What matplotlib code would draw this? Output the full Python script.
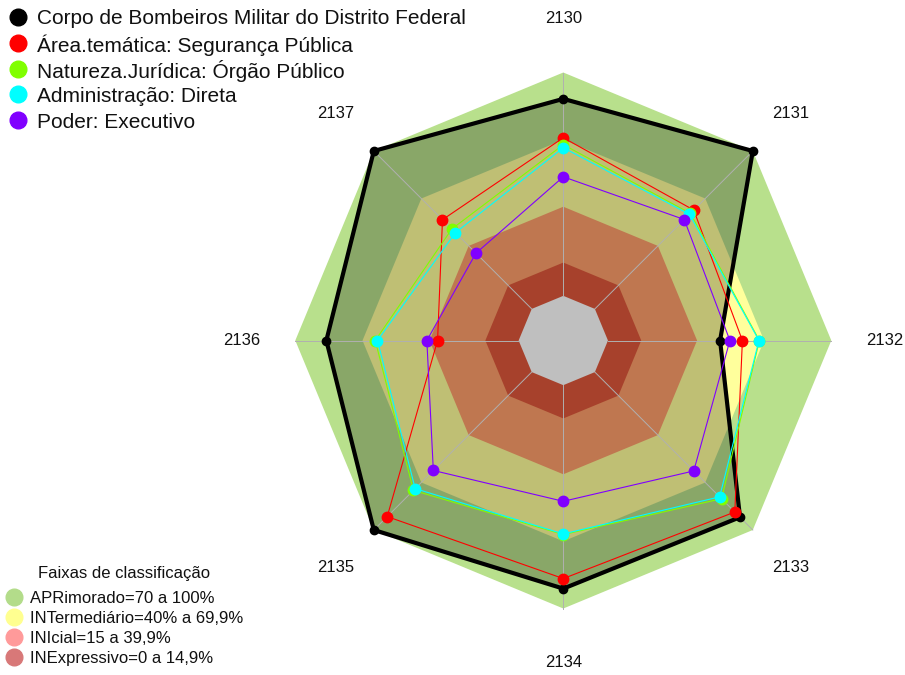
import numpy as np
import matplotlib
matplotlib.use("Agg")
import matplotlib.pyplot as plt

plt.rcParams['font.family'] = ['Liberation Sans', 'DejaVu Sans']

# eixos do radar (sentido horario a partir do topo)
eixos = ['2130', '2131', '2132', '2133', '2134', '2135', '2136', '2137']

nomes = ['Corpo de Bombeiros Militar do Distrito Federal',
         'Área.temática: Segurança Pública',
         'Natureza.Jurídica: Órgão Público',
         'Administração: Direta',
         'Poder: Executivo']
cores = ['#000000', '#ff0000', '#80ff00', '#00ffff', '#8000ff']

cbmdf = [88.2, 100, 50.2, 91.9, 91.1, 100, 86.1, 100]
area = [70.8, 62.6, 60.2, 88.6, 86.6, 91.5, 36.3, 56.5]
natureza = [67.7, 60.5, 67.8, 80.2, 66.9, 74.9, 64.2, 50.6]
adm = [66.3, 59.9, 67.6, 79.0, 66.6, 73.8, 63.2, 48.3]
poder = [53.3, 56.6, 54.6, 62.6, 52.0, 62.3, 41.1, 35.3]
series = [cbmdf, area, natureza, adm, poder]

# faixas de classificacao
faixas = ['APRimorado=70 a 100%', 'INTermediário=40% a 69,9%',
          'INIcial=15 a 39,9%', 'INExpressivo=0 a 14,9%']
faixa_topo = [100, 69.9, 39.9, 14.9]
faixa_cor = ['#b8e08c', '#ffff9c', '#ffa06b', '#e0583b']
faixa_leg = ['#b3dc8a', '#ffff90', '#ff9a9a', '#d87878']

n = len(eixos)
ang = np.pi / 2 - np.arange(n) * 2 * np.pi / n


def raio(v):
    # escala tipo fmsb: 5 segmentos + buraco central
    return 1 / 6 + np.asarray(v, dtype=float) / 100 * 5 / 6


def xy(v, fechar=True):
    r = raio(v)
    x, y = r * np.cos(ang), r * np.sin(ang)
    if fechar:
        x, y = np.append(x, x[0]), np.append(y, y[0])
    return x, y


W, H = 905, 675
R = 268.0
cx, cy = 563.3, 340.5
fig = plt.figure(figsize=(W / 100, H / 100), dpi=100)
ax = fig.add_axes([0, 0, 1, 1])
ax.set_xlim(-cx / R, (W - cx) / R)
ax.set_ylim(-(H - cy) / R, cy / R)
ax.axis('off')

# faixas
for topo, c in zip(faixa_topo, faixa_cor):
    x, y = xy([topo] * n)
    ax.fill(x, y, color=c, lw=0, zorder=1)
x, y = xy([0] * n)
ax.fill(x, y, color='white', lw=0, zorder=1)

# preenchimento da serie principal
x, y = xy(cbmdf)
ax.fill(x, y, color='black', alpha=0.25, lw=0, zorder=2)

# raios
for a in ang:
    ax.plot([np.cos(a) / 6, np.cos(a)], [np.sin(a) / 6, np.sin(a)],
            color='#b0b0b0', lw=0.7, zorder=3)

# series
for k, (vals, c) in enumerate(zip(series, cores)):
    x, y = xy(vals)
    if k == 0:
        ax.plot(x, y, color=c, lw=3, zorder=4)
        ax.plot(x[:-1], y[:-1], 'o', color=c, ms=6, zorder=4)
    else:
        ax.plot(x, y, color=c, lw=0.8, zorder=4 + k)
        ax.plot(x[:-1], y[:-1], 'o', color=c, ms=7.5, zorder=4 + k)

# rotulos dos eixos
for a, lab in zip(ang, eixos):
    ax.text(1.2 * np.cos(a), 1.2 * np.sin(a), lab, ha='center', va='center',
            fontsize=12, color='#111111')

# legenda das series
for i, (nm, c) in enumerate(zip(nomes, cores)):
    yy = 1 - (17 + i * 25.8) / H
    ax.plot(18 / W, yy, 'o', color=c, ms=12, transform=fig.transFigure,
            clip_on=False)
    fig.text(37 / W, yy, nm, ha='left', va='center_baseline', fontsize=15,
             color='#111111')

# legenda das faixas
fig.text(124 / W, 1 - 572 / H, 'Faixas de classificação', ha='center',
         va='center_baseline', fontsize=12, color='#111111')
for i, (nm, c) in enumerate(zip(faixas, faixa_leg)):
    yy = 1 - (597.3 + i * 20) / H
    ax.plot(14 / W, yy, 'o', color=c, ms=12, transform=fig.transFigure,
            clip_on=False)
    fig.text(30 / W, yy, nm, ha='left', va='center_baseline', fontsize=12,
             color='#111111')

fig.savefig('out.png', dpi=100)
